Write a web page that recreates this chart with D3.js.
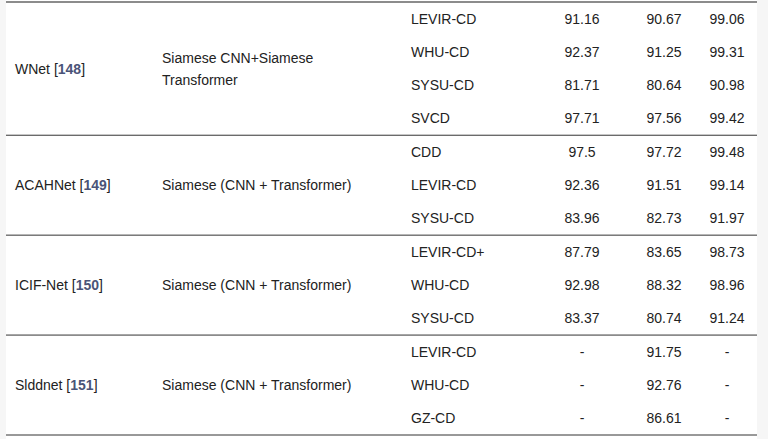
<!DOCTYPE html>
<html>
<head>
<meta charset="utf-8">
<script src="https://cdn.jsdelivr.net/npm/d3@7"></script>
<style>
  body { margin: 0; background: #f6f6f6; }
  svg { display: block; }
  text { font-family: "Liberation Sans", Arial, Helvetica, sans-serif; font-size: 14px; fill: #222; }
  .ref { fill: #4a5478; font-weight: bold; }
</style>
</head>
<body>
<div class="chart"></div>
<script>
const width = 768;
const height = 439;

// table content
const methods = ["WNet", "ACAHNet", "ICIF-Net", "Slddnet"];
const refs = ["148", "149", "150", "151"];
const architectures = [
  ["Siamese CNN+Siamese", "Transformer"],
  ["Siamese (CNN + Transformer)"],
  ["Siamese (CNN + Transformer)"],
  ["Siamese (CNN + Transformer)"]
];
const datasets = [
  ["LEVIR-CD", "WHU-CD", "SYSU-CD", "SVCD"],
  ["CDD", "LEVIR-CD", "SYSU-CD"],
  ["LEVIR-CD+", "WHU-CD", "SYSU-CD"],
  ["LEVIR-CD", "WHU-CD", "GZ-CD"]
];
const col1 = [
  ["91.16", "92.37", "81.71", "97.71"],
  ["97.5", "92.36", "83.96"],
  ["87.79", "92.98", "83.37"],
  ["-", "-", "-"]
];
const col2 = [
  ["90.67", "91.25", "80.64", "97.56"],
  ["97.72", "91.51", "82.73"],
  ["83.65", "88.32", "80.74"],
  ["91.75", "92.76", "86.61"]
];
const col3 = [
  ["99.06", "99.31", "90.98", "99.42"],
  ["99.48", "99.14", "91.97"],
  ["98.73", "98.96", "91.24"],
  ["-", "-", "-"]
];

// flatten into rows
let rows = [];
let groups = [];
datasets.forEach((ds, g) => {
  const start = rows.length;
  ds.forEach((d, i) => {
    rows.push({ group: g, dataset: d, a: col1[g][i], b: col2[g][i], c: col3[g][i] });
  });
  groups.push({ index: g, start: start, end: rows.length - 1 });
});

const svg = d3.select(".chart")
  .append("svg")
  .attr("width", width)
  .attr("height", height);

svg.append("rect")
  .attr("x", 6).attr("y", 0)
  .attr("width", 751).attr("height", height)
  .attr("fill", "#fff");

const yScale = d3.scaleBand()
  .domain(d3.range(rows.length))
  .range([2, 435]);

const xScale = d3.scaleOrdinal()
  .domain(["method", "arch", "dataset", "a", "b", "c"])
  .range([15, 162, 411, 582, 664, 727]);

// group separators
const lines = [2].concat(groups.map(g => yScale(g.end) + yScale.bandwidth()));
svg.selectAll(".sep")
  .data(lines)
  .enter()
  .append("line")
  .attr("class", "sep")
  .attr("x1", 6).attr("x2", 757)
  .attr("y1", d => d).attr("y2", d => d)
  .attr("stroke", d => d === 2 ? "#666" : "#333")
  .attr("stroke-width", d => d === 2 ? 1.5 : 1);

// row cells
const row = svg.selectAll(".row")
  .data(rows)
  .enter()
  .append("g")
  .attr("class", "row")
  .attr("transform", (d, i) => `translate(0, ${yScale(i) + yScale.bandwidth() / 2})`);

row.append("text")
  .attr("x", xScale("dataset"))
  .attr("dy", "0.35em")
  .text(d => d.dataset);

["a", "b", "c"].forEach(k => {
  row.append("text")
    .attr("x", xScale(k))
    .attr("dy", "0.35em")
    .attr("text-anchor", "middle")
    .text(d => d[k]);
});

// group cells
const grp = svg.selectAll(".grp")
  .data(groups)
  .enter()
  .append("g")
  .attr("class", "grp")
  .attr("transform", d => {
    const y0 = yScale(d.start);
    const y1 = yScale(d.end) + yScale.bandwidth();
    return `translate(0, ${(y0 + y1) / 2})`;
  });

const mt = grp.append("text")
  .attr("x", xScale("method"))
  .attr("dy", "0.35em");
mt.append("tspan").text(d => methods[d.index] + " [");
mt.append("tspan").attr("class", "ref").text(d => refs[d.index]);
mt.append("tspan").text("]");

grp.each(function(d) {
  const lns = architectures[d.index];
  const lh = 22;
  d3.select(this).selectAll(".arch")
    .data(lns)
    .enter()
    .append("text")
    .attr("class", "arch")
    .attr("x", xScale("arch"))
    .attr("y", (t, i) => (i - (lns.length - 1) / 2) * lh)
    .attr("dy", "0.35em")
    .text(t => t);
});
</script>
</body>
</html>
